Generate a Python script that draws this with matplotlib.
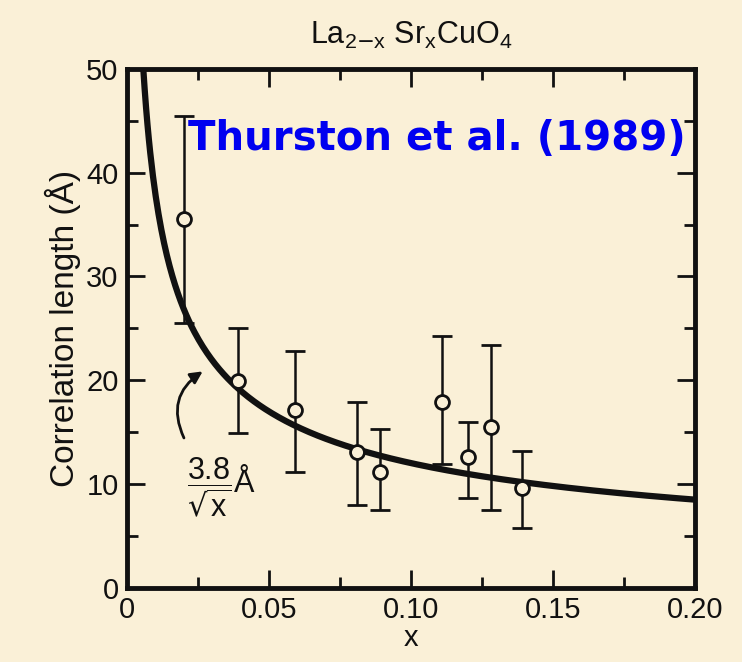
import numpy as np
import matplotlib
matplotlib.use('Agg')
from matplotlib import pyplot as plt
from matplotlib.ticker import MultipleLocator

# measured points (x, xi) with error bar ends
x = [0.020, 0.039, 0.059, 0.081, 0.089, 0.111, 0.120, 0.128, 0.139]
xi = [35.5, 19.9, 17.1, 13.1, 11.2, 17.9, 12.6, 15.5, 9.6]
err_hi = [45.5, 25.0, 22.8, 17.9, 15.3, 24.3, 16.0, 23.4, 13.2]
err_lo = [25.5, 14.9, 11.2, 8.0, 7.5, 11.9, 8.7, 7.5, 5.8]
coef = 3.8  # xi = 3.8 / sqrt(x) Angstrom

bg = '#faf0d7'
ink = '#111111'
plt.rcParams['font.family'] = ['Liberation Sans Narrow', 'Liberation Sans', 'DejaVu Sans']
plt.rcParams['mathtext.default'] = 'regular'

fig = plt.figure(figsize=(7.42, 6.62), dpi=100, facecolor=bg)
ax = fig.add_axes([0.171, 0.112, 0.766, 0.784], facecolor=bg)

xs = np.linspace((coef / 50.0) ** 2, 0.2, 400)
ax.plot(xs, coef / np.sqrt(xs), color=ink, lw=4.5, zorder=2)

yerr = [np.array(xi) - np.array(err_lo), np.array(err_hi) - np.array(xi)]
ax.errorbar(x, xi, yerr=yerr, fmt='o', ms=10, mfc=bg, mec=ink, mew=2,
            ecolor=ink, elinewidth=1.8, capsize=7, capthick=1.8, zorder=3)

ax.set_xlim(0, 0.2)
ax.set_ylim(0, 50)
ax.xaxis.set_minor_locator(MultipleLocator(0.025))
ax.yaxis.set_major_locator(MultipleLocator(10))
ax.yaxis.set_minor_locator(MultipleLocator(5))
ax.set_xticks([0, 0.05, 0.10, 0.15, 0.20])
ax.set_xticklabels(['0', '0.05', '0.10', '0.15', '0.20'])
ax.tick_params(which='both', direction='in', top=True, right=True,
               colors=ink, labelsize=21, width=2)
ax.tick_params(which='major', length=13, pad=6)
ax.tick_params(which='minor', length=8)
for s in ax.spines.values():
    s.set_linewidth(3.5)
    s.set_color(ink)

ax.set_xlabel('x', fontsize=21, color=ink, labelpad=0)
ax.set_ylabel('Correlation length (Å)', fontsize=24, color=ink, labelpad=4)
ax.set_title(r'La$_{2\mathrm{-}x}$ Sr$_x$CuO$_4$', fontsize=22, color=ink, pad=18)

ax.text(0.545, 0.865, 'Thurston et al. (1989)', transform=ax.transAxes,
        ha='center', va='center', fontsize=29, fontweight='bold',
        color='#0000f0', family='DejaVu Sans')

ax.annotate('', xy=(0.0275, 21.0), xytext=(0.0205, 14.2),
            arrowprops=dict(arrowstyle='-|>', color=ink, lw=2,
                            mutation_scale=18,
                            connectionstyle='arc3,rad=-0.45'))
ax.text(0.021, 9.7, r'$\dfrac{3.8}{\sqrt{x}}\AA$', fontsize=22,
        color=ink, ha='left', va='center')

fig.savefig('out.png', dpi=100, facecolor=bg)
